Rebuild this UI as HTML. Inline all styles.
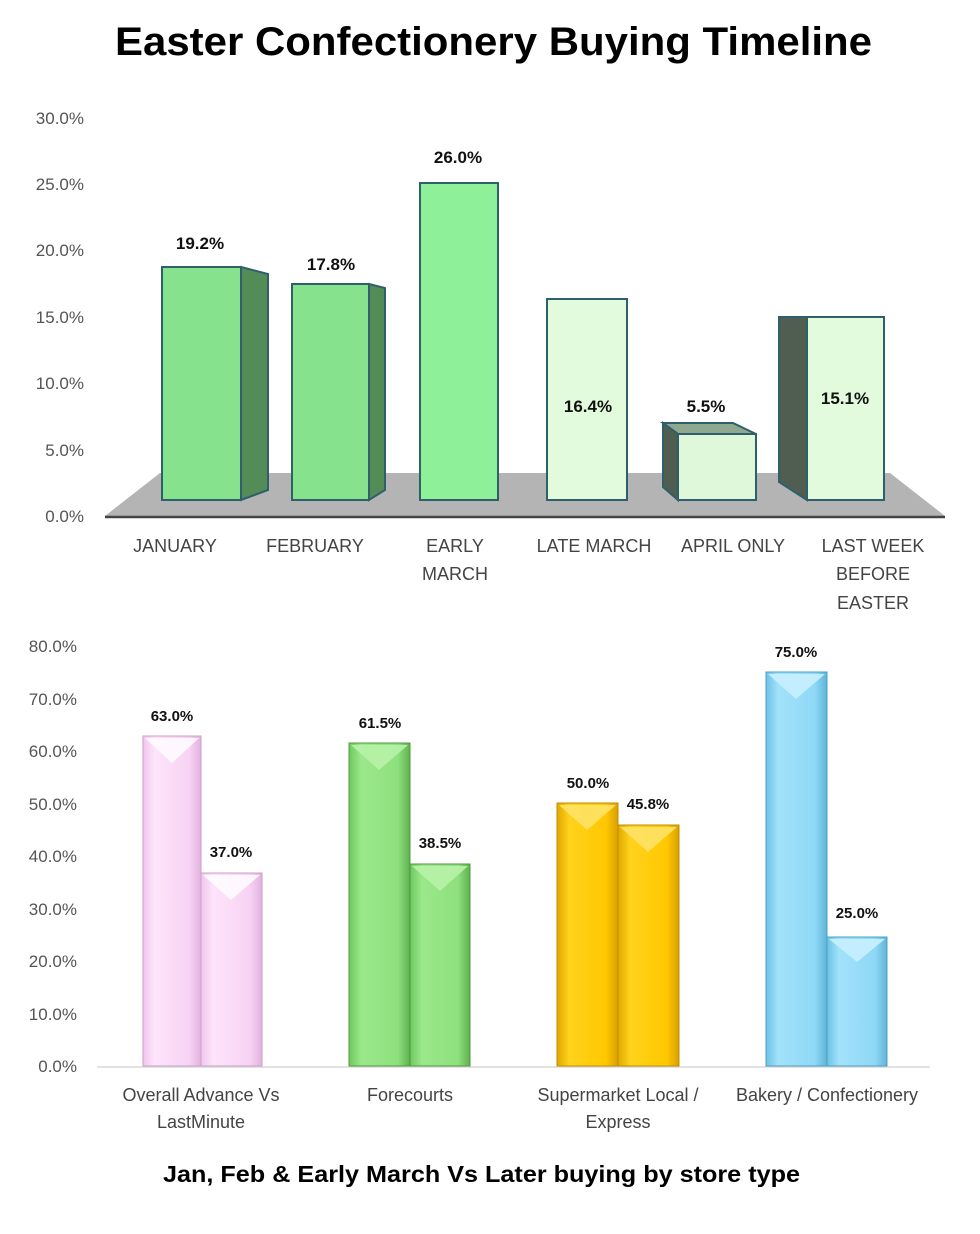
<!DOCTYPE html>
<html><head><meta charset="utf-8"><style>
html,body{margin:0;padding:0;background:#fff;}
svg{display:block;font-family:"Liberation Sans",sans-serif;}
</style></head><body>
<svg width="980" height="1234" viewBox="0 0 980 1234">
<defs>
<linearGradient id="pk" x1="0" x2="1"><stop offset="0" stop-color="#f1c6ee"/><stop offset=".2" stop-color="#fde4fb"/><stop offset=".8" stop-color="#f7d2f4"/><stop offset="1" stop-color="#e2b2df"/></linearGradient>
<linearGradient id="gr" x1="0" x2="1"><stop offset="0" stop-color="#6fc85e"/><stop offset=".2" stop-color="#9ae88a"/><stop offset=".8" stop-color="#8fe07e"/><stop offset="1" stop-color="#5fb04e"/></linearGradient>
<linearGradient id="yl" x1="0" x2="1"><stop offset="0" stop-color="#e0a800"/><stop offset=".2" stop-color="#ffd21c"/><stop offset=".8" stop-color="#ffc800"/><stop offset="1" stop-color="#d9a000"/></linearGradient>
<linearGradient id="bl" x1="0" x2="1"><stop offset="0" stop-color="#6cc2e6"/><stop offset=".2" stop-color="#a2e2fb"/><stop offset=".8" stop-color="#8fd8f6"/><stop offset="1" stop-color="#5fb4d8"/></linearGradient>
</defs>
<text x="115" y="55" font-size="40" font-weight="bold" fill="#000" textLength="757" lengthAdjust="spacingAndGlyphs">Easter Confectionery Buying Timeline</text>

<g font-size="17" fill="#555" text-anchor="end">
<text x="84" y="124">30.0%</text><text x="84" y="190">25.0%</text><text x="84" y="256">20.0%</text><text x="84" y="323">15.0%</text><text x="84" y="389">10.0%</text><text x="84" y="456">5.0%</text><text x="84" y="522">0.0%</text>
</g>
<polygon points="160,473 890,473 945,516 105,516" fill="#b4b4b4"/>
<line x1="105" y1="517" x2="945" y2="517" stroke="#444" stroke-width="2.5"/>

<g stroke="#2f5f6a" stroke-width="2">
<polygon points="241,267 268,274 268,490 241,500" fill="#548c58"/>
<rect x="162" y="267" width="79" height="233" fill="#86e28c"/>
<polygon points="369,284 385,288 385,490 369,500" fill="#548c58"/>
<rect x="292" y="284" width="77" height="216" fill="#86e28c"/>
<rect x="420" y="183" width="78" height="317" fill="#8ff09a"/>
<rect x="547" y="299" width="80" height="201" fill="#e2fbdc"/>
<polygon points="663,423 733,423 756,434 678,434" fill="#8fa890"/>
<polygon points="663,423 678,434 678,500 663,487" fill="#4f5e50"/>
<rect x="678" y="434" width="78" height="66" fill="#e0f8da"/>
<polygon points="779,317 807,317 807,500 779,482" fill="#4f5e50"/>
<rect x="807" y="317" width="77" height="183" fill="#e2fbdc"/>
</g>
<g font-size="17" font-weight="bold" fill="#111" text-anchor="middle">
<text x="200" y="249">19.2%</text><text x="331" y="270">17.8%</text><text x="458" y="163">26.0%</text><text x="588" y="412">16.4%</text><text x="706" y="412">5.5%</text><text x="845" y="404">15.1%</text>
</g>
<g font-size="18" fill="#444" text-anchor="middle">
<text x="175" y="552">JANUARY</text><text x="315" y="552">FEBRUARY</text><text x="455" y="552">EARLY</text><text x="455" y="580">MARCH</text><text x="594" y="552">LATE MARCH</text><text x="733" y="552">APRIL ONLY</text><text x="873" y="552">LAST WEEK</text><text x="873" y="580">BEFORE</text><text x="873" y="609">EASTER</text>
</g>

<g font-size="17" fill="#555" text-anchor="end">
<text x="77" y="652">80.0%</text><text x="77" y="705">70.0%</text><text x="77" y="757">60.0%</text><text x="77" y="810">50.0%</text><text x="77" y="862">40.0%</text><text x="77" y="915">30.0%</text><text x="77" y="967">20.0%</text><text x="77" y="1020">10.0%</text><text x="77" y="1072">0.0%</text>
</g>
<line x1="97" y1="1067" x2="930" y2="1067" stroke="#d8d8d8" stroke-width="1.5"/>

<g>
<rect x="143" y="736" width="58" height="330" fill="url(#pk)" stroke="#c9a0c6"/>
<polygon points="145,738 199,738 172,763" fill="#fff" opacity=".8"/>
<rect x="201" y="873" width="61" height="193" fill="url(#pk)" stroke="#c9a0c6"/>
<polygon points="203,875 260,875 231,900" fill="#fff" opacity=".8"/>
<rect x="349" y="743" width="61" height="323" fill="url(#gr)" stroke="#4f9a40"/>
<polygon points="351,745 408,745 379,770" fill="#b8f2a8" opacity=".9"/>
<rect x="410" y="864" width="60" height="202" fill="url(#gr)" stroke="#4f9a40"/>
<polygon points="412,866 468,866 440,891" fill="#b8f2a8" opacity=".9"/>
<rect x="557" y="803" width="61" height="263" fill="url(#yl)" stroke="#c08c00"/>
<polygon points="559,805 616,805 587,830" fill="#ffe266" opacity=".9"/>
<rect x="618" y="825" width="61" height="241" fill="url(#yl)" stroke="#c08c00"/>
<polygon points="620,827 677,827 648,852" fill="#ffe266" opacity=".9"/>
<rect x="766" y="672" width="61" height="394" fill="url(#bl)" stroke="#4aa0c4"/>
<polygon points="768,674 825,674 796,699" fill="#c8f0ff" opacity=".9"/>
<rect x="827" y="937" width="60" height="129" fill="url(#bl)" stroke="#4aa0c4"/>
<polygon points="829,939 885,939 857,962" fill="#c8f0ff" opacity=".9"/>
</g>
<g font-size="15" font-weight="bold" fill="#111" text-anchor="middle">
<text x="172" y="721">63.0%</text><text x="231" y="857">37.0%</text><text x="380" y="728">61.5%</text><text x="440" y="848">38.5%</text><text x="588" y="788">50.0%</text><text x="648" y="809">45.8%</text><text x="796" y="657">75.0%</text><text x="857" y="918">25.0%</text>
</g>
<g font-size="18" fill="#444" text-anchor="middle">
<text x="201" y="1101">Overall Advance Vs</text><text x="201" y="1128">LastMinute</text><text x="410" y="1101">Forecourts</text><text x="618" y="1101">Supermarket Local /</text><text x="618" y="1128">Express</text><text x="827" y="1101">Bakery / Confectionery</text>
</g>
<text x="163" y="1182" font-size="23" font-weight="bold" fill="#000" textLength="637" lengthAdjust="spacingAndGlyphs">Jan, Feb &amp; Early March Vs Later buying by store type</text>
</svg>
</body></html>
